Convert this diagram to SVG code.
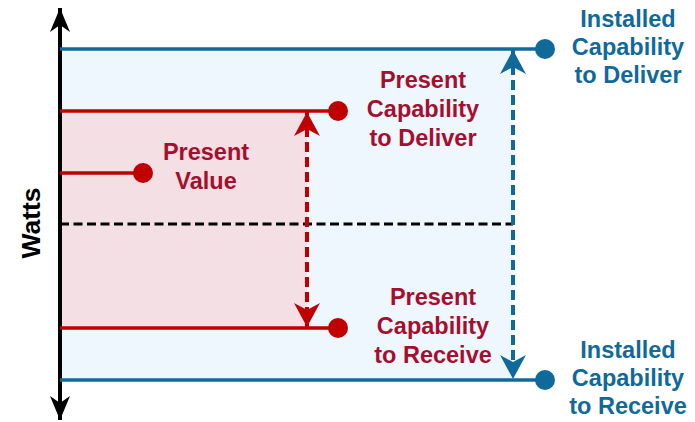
<svg xmlns="http://www.w3.org/2000/svg" width="695" height="422" viewBox="0 0 695 422">
  <style>
    .lbl { font-family: "Liberation Sans", Arial, sans-serif; font-weight: bold; font-size: 23.5px; text-anchor: middle; }
    .blueT { fill: #0f6a9b; }
    .redT { fill: #a50f2d; }
    .blueL { stroke: #0f6a9b; stroke-width: 3.5; fill: none; }
    .redL { stroke: #c00000; stroke-width: 3.5; fill: none; }
    .blueD { fill: #0f6a9b; }
    .redD { fill: #c00000; }
  </style>
  <defs>
    <marker id="arrBlue" viewBox="0 0 24 26" refX="24" refY="13" markerWidth="24" markerHeight="26" markerUnits="userSpaceOnUse" orient="auto-start-reverse">
      <path d="M24,13 L0,0 L7,13 L0,26 Z" fill="#0f6a9b"/>
    </marker>
    <marker id="arrRed" viewBox="0 0 24 26" refX="24" refY="13" markerWidth="24" markerHeight="26" markerUnits="userSpaceOnUse" orient="auto-start-reverse">
      <path d="M24,13 L0,0 L7,13 L0,26 Z" fill="#c00000"/>
    </marker>
    <marker id="arrBlack" viewBox="0 0 24 20" refX="24" refY="10" markerWidth="24" markerHeight="20" markerUnits="userSpaceOnUse" orient="auto-start-reverse">
      <path d="M24,10 L0,0 L7,10 L0,20 Z" fill="#000"/>
    </marker>
  </defs>

  <g id="regions">
    <rect x="60" y="49" width="453" height="331" fill="#eef7fd"/>
    <rect x="60" y="111" width="247" height="217" fill="#f4dfe5"/>
  </g>

  <g id="connectors">
    <line x1="60" y1="224" x2="513" y2="224" stroke="#000" stroke-width="3" stroke-dasharray="9 4.5"/>
    <line x1="307" y1="112" x2="307" y2="327" stroke="#c00000" stroke-width="4" stroke-dasharray="10 5" marker-start="url(#arrRed)" marker-end="url(#arrRed)"/>
    <line x1="513" y1="50" x2="513" y2="379" stroke="#0f6a9b" stroke-width="4" stroke-dasharray="10 5" marker-start="url(#arrBlue)" marker-end="url(#arrBlue)"/>
    <line x1="60" y1="8" x2="60" y2="420" stroke="#000" stroke-width="4" marker-start="url(#arrBlack)" marker-end="url(#arrBlack)"/>
  </g>

  <g id="installed-deliver">
    <line class="blueL" x1="60" y1="49" x2="545" y2="49"/>
    <circle class="blueD" cx="545" cy="49" r="10"/>
    <text class="lbl blueT" x="628"><tspan x="628" y="27">Installed</tspan><tspan x="628" y="55">Capability</tspan><tspan x="628" y="83">to Deliver</tspan></text>
  </g>

  <g id="present-deliver">
    <line class="redL" x1="60" y1="111" x2="338" y2="111"/>
    <circle class="redD" cx="338" cy="111" r="10"/>
    <text class="lbl redT" x="423"><tspan x="423" y="88">Present</tspan><tspan x="423" y="117">Capability</tspan><tspan x="423" y="146">to Deliver</tspan></text>
  </g>

  <g id="present-value">
    <line class="redL" x1="60" y1="173" x2="143" y2="173"/>
    <circle class="redD" cx="143" cy="173" r="10"/>
    <text class="lbl redT" x="206"><tspan x="206" y="160">Present</tspan><tspan x="206" y="189">Value</tspan></text>
  </g>

  <g id="present-receive">
    <line class="redL" x1="60" y1="328" x2="338" y2="328"/>
    <circle class="redD" cx="338" cy="328" r="10"/>
    <text class="lbl redT" x="433"><tspan x="433" y="305">Present</tspan><tspan x="433" y="334">Capability</tspan><tspan x="433" y="363">to Receive</tspan></text>
  </g>

  <g id="installed-receive">
    <line class="blueL" x1="60" y1="380" x2="545" y2="380"/>
    <circle class="blueD" cx="545" cy="380" r="10"/>
    <text class="lbl blueT" x="628"><tspan x="628" y="358">Installed</tspan><tspan x="628" y="386">Capability</tspan><tspan x="628" y="414">to Receive</tspan></text>
  </g>

  <g id="axis-label">
    <text transform="translate(40,223) rotate(-90)" x="0" y="0" font-family="Liberation Sans, Arial, sans-serif" font-weight="bold" font-size="26.5" text-anchor="middle" fill="#000">Watts</text>
  </g>
</svg>
